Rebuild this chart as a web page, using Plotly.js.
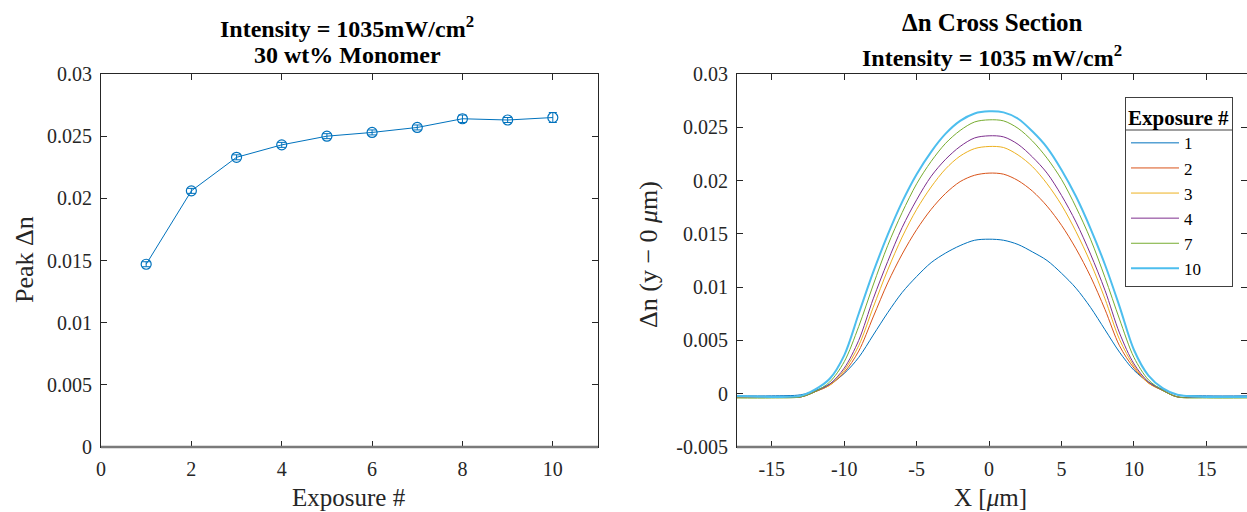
<!DOCTYPE html>
<html>
<head>
<meta charset="utf-8">
<script src="https://cdn.plot.ly/plotly-3.0.1.min.js"></script>
<style>
  html, body { margin: 0; padding: 0; background: #fff; }
  #chart { width: 1247px; height: 512px; }
</style>
</head>
<body>
<div id="chart"></div>
<script>
// Peak index change versus exposure number
const exposureNum = [1, 2, 3, 4, 5, 6, 7, 8, 9, 10];
const peakDn = [0.0147, 0.0206, 0.0233, 0.0243, 0.0250, 0.0253, 0.0257, 0.0264, 0.0263, 0.0265];
const peakErr = [0.0002, 0.0002, 0.0002, 0.0002, 0.0002, 0.0002, 0.0002, 0.0003, 0.0002, 0.0004];

// Cross-section profiles (x in micrometres)
const xPos = [-17.5, -15, -13, -12, -11, -10, -9, -8, -7, -6, -5, -4, -3, -2, -1, 0,
              1, 2, 3, 4, 5, 6, 7, 8, 9, 10, 11, 12, 13, 15, 17.8];
const dnExp1 = [-0.0002, -0.0002, -0.0001, 0.0003, 0.0009, 0.0019, 0.0034, 0.0055, 0.0076, 0.0095, 0.0110, 0.0123, 0.0132, 0.0139, 0.0144,
                0.0145,
                0.0144, 0.0140, 0.0133, 0.0125, 0.0113, 0.0099, 0.0081, 0.0060, 0.0039, 0.0022, 0.0011, 0.0004, -0.0001, -0.0002, -0.0002];
const dnExp2 = [-0.0003, -0.0003, -0.0003, 0.0002, 0.0008, 0.0020, 0.0040, 0.0072, 0.0104, 0.0131, 0.0154, 0.0173, 0.0188, 0.0199, 0.0205,
                0.0207,
                0.0206, 0.0200, 0.0190, 0.0176, 0.0158, 0.0136, 0.0110, 0.0079, 0.0045, 0.0024, 0.0010, 0.0003, -0.0003, -0.0003, -0.0003];
const dnExp3 = [-0.0003, -0.0003, -0.0003, 0.0002, 0.0008, 0.0022, 0.0045, 0.0081, 0.0116, 0.0147, 0.0173, 0.0194, 0.0211, 0.0223, 0.0230,
                0.0232,
                0.0231, 0.0224, 0.0213, 0.0197, 0.0177, 0.0152, 0.0123, 0.0089, 0.0051, 0.0026, 0.0010, 0.0003, -0.0003, -0.0003, -0.0003];
const dnExp4 = [-0.0003, -0.0003, -0.0003, 0.0002, 0.0009, 0.0024, 0.0050, 0.0089, 0.0124, 0.0156, 0.0182, 0.0204, 0.0220, 0.0232, 0.0240,
                0.0242,
                0.0241, 0.0234, 0.0222, 0.0207, 0.0186, 0.0161, 0.0131, 0.0097, 0.0057, 0.0028, 0.0011, 0.0003, -0.0003, -0.0003, -0.0003];
const dnExp7 = [-0.0004, -0.0004, -0.0003, 0.0002, 0.0011, 0.0030, 0.0063, 0.0102, 0.0139, 0.0170, 0.0197, 0.0218, 0.0235, 0.0247, 0.0255,
                0.0257,
                0.0256, 0.0249, 0.0237, 0.0221, 0.0201, 0.0175, 0.0145, 0.0109, 0.0070, 0.0034, 0.0013, 0.0003, -0.0003, -0.0004, -0.0004];
const dnExp10 = [-0.0002, -0.0003, -0.0002, 0.0004, 0.0014, 0.0036, 0.0075, 0.0114, 0.0149, 0.0180, 0.0206, 0.0227, 0.0244, 0.0256, 0.0263,
                 0.0265,
                 0.0264, 0.0258, 0.0246, 0.0231, 0.0210, 0.0185, 0.0155, 0.0121, 0.0082, 0.0041, 0.0017, 0.0005, -0.0001, -0.0003, -0.0003];

const seriesNames = ['1', '2', '3', '4', '7', '10'];
const seriesData = [dnExp1, dnExp2, dnExp3, dnExp4, dnExp7, dnExp10];
const seriesColors = ['#0072BD', '#D95319', '#EDB120', '#7E2F8E', '#77AC30', '#4DBEEE'];
const seriesWidths = [1, 1, 1, 1, 1, 2];

const leftTicksX = [0, 2, 4, 6, 8, 10];
const leftTicksY = [0, 0.005, 0.01, 0.015, 0.02, 0.025, 0.03];
const rightTicksX = [-15, -10, -5, 0, 5, 10, 15];
const rightTickTextX = ['-15', '-10', '-5', '0', '5', '10', '15'];
const rightTicksY = [-0.005, 0, 0.005, 0.01, 0.015, 0.02, 0.025, 0.03];
const rightTickTextY = ['-0.005', '0', '0.005', '0.01', '0.015', '0.02', '0.025', '0.03'];

const W = 1247, H = 512;
const px = v => v / W;
const py = v => 1 - v / H;

const FONT = 'Liberation Serif, Times New Roman, serif';
const INK = '#262626';

const traces = [{
  x: exposureNum,
  y: peakDn,
  error_y: { type: 'data', array: peakErr, visible: true, color: '#0072BD', thickness: 1, width: 4 },
  mode: 'lines+markers',
  line: { color: '#0072BD', width: 1 },
  marker: { symbol: 'circle-open', size: 10, color: '#0072BD', line: { width: 1.2 } },
  xaxis: 'x', yaxis: 'y',
  showlegend: false
}];

seriesData.forEach((ys, i) => {
  traces.push({
    x: xPos,
    y: ys,
    name: seriesNames[i],
    mode: 'lines',
    line: { color: seriesColors[i], width: seriesWidths[i], shape: 'spline', smoothing: 0.9 },
    xaxis: 'x2', yaxis: 'y2'
  });
});

const axisCommon = {
  showline: true, mirror: 'ticks', linecolor: INK, linewidth: 1,
  ticks: 'inside', ticklen: 6, tickcolor: INK, tickwidth: 1,
  showgrid: false, zeroline: false,
  tickfont: { family: FONT, size: 20, color: INK },
  ticklabelstandoff: 4
};

// heavier grey base line along the bottom of each panel
const baseLine = (xd, yd) => ({
  type: 'line', xref: xd, yref: yd, x0: 0, x1: 1, y0: 0, y1: 0,
  line: { color: '#7a7a7a', width: 2.5 }, layer: 'above'
});

const layout = {
  width: W, height: H,
  margin: { l: 0, r: 0, t: 0, b: 0, pad: 0 },
  paper_bgcolor: '#fff', plot_bgcolor: '#fff',
  font: { family: FONT, color: INK },
  xaxis: Object.assign({}, axisCommon, {
    domain: [px(101), px(598)], range: [0, 11],
    tickmode: 'array', tickvals: leftTicksX, anchor: 'y'
  }),
  yaxis: Object.assign({}, axisCommon, {
    domain: [py(447), py(74)], range: [0, 0.03],
    tickmode: 'array', tickvals: leftTicksY, anchor: 'x'
  }),
  xaxis2: Object.assign({}, axisCommon, {
    domain: [px(737), 1], range: [-17.4, 17.8],
    tickmode: 'array', tickvals: rightTicksX, ticktext: rightTickTextX, anchor: 'y2'
  }),
  yaxis2: Object.assign({}, axisCommon, {
    domain: [py(447), py(74)], range: [-0.005, 0.03],
    tickmode: 'array', tickvals: rightTicksY, ticktext: rightTickTextY, anchor: 'x2'
  }),
  showlegend: true,
  legend: {
    x: px(1233), y: py(97), xanchor: 'right', yanchor: 'top',
    bgcolor: 'rgba(255,255,255,0)', bordercolor: '#404040', borderwidth: 1,
    font: { family: FONT, size: 17, color: '#000' },
    title: { text: '<b>Exposure #</b>', font: { family: FONT, size: 21, color: '#000' }, side: 'top' },
    itemwidth: 48,
    tracegroupgap: 0
  },
  annotations: [
    { text: '<b>Intensity = 1035mW/cm<sup>2</sup></b>', x: px(347), y: py(27), xref: 'paper', yref: 'paper',
      showarrow: false, xanchor: 'center', yanchor: 'middle', font: { family: FONT, size: 24, color: '#000' } },
    { text: '<b>30 wt% Monomer</b>', x: px(347), y: py(55), xref: 'paper', yref: 'paper',
      showarrow: false, xanchor: 'center', yanchor: 'middle', font: { family: FONT, size: 24, color: '#000' } },
    { text: '<b>Δn Cross Section</b>', x: px(992), y: py(22), xref: 'paper', yref: 'paper',
      showarrow: false, xanchor: 'center', yanchor: 'middle', font: { family: FONT, size: 25, color: '#000' } },
    { text: '<b>Intensity = 1035 mW/cm<sup>2</sup></b>', x: px(992), y: py(56), xref: 'paper', yref: 'paper',
      showarrow: false, xanchor: 'center', yanchor: 'middle', font: { family: FONT, size: 24, color: '#000' } },
    { text: 'Exposure #', x: px(349), y: py(497), xref: 'paper', yref: 'paper',
      showarrow: false, xanchor: 'center', yanchor: 'middle', font: { family: FONT, size: 25, color: INK } },
    { text: 'Peak Δn', x: px(24), y: py(260), xref: 'paper', yref: 'paper', textangle: -90,
      showarrow: false, xanchor: 'center', yanchor: 'middle', font: { family: FONT, size: 26, color: INK } },
    { text: 'X [<i>μ</i>m]', x: px(990), y: py(497), xref: 'paper', yref: 'paper',
      showarrow: false, xanchor: 'center', yanchor: 'middle', font: { family: FONT, size: 25, color: INK } },
    { text: 'Δn (y − 0 <i>μ</i>m)', x: px(648), y: py(255), xref: 'paper', yref: 'paper', textangle: -90,
      showarrow: false, xanchor: 'center', yanchor: 'middle', font: { family: FONT, size: 26, color: INK } }
  ],
  shapes: [
    baseLine('x domain', 'y domain'),
    baseLine('x2 domain', 'y2 domain'),
    // rule under the legend heading
    { type: 'line', xref: 'paper', yref: 'paper', x0: px(1125), x1: px(1233), y0: py(130), y1: py(130),
      line: { color: '#808080', width: 1.5 }, layer: 'above' }
  ]
};

Plotly.newPlot('chart', traces, layout, { staticPlot: true, displayModeBar: false });
</script>
</body>
</html>
